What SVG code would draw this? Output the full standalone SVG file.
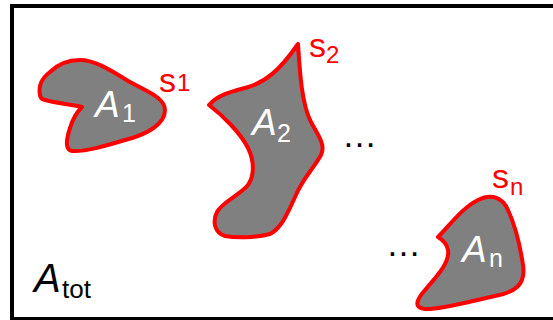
<svg xmlns="http://www.w3.org/2000/svg" width="553" height="320" viewBox="0 0 553 320">
<style>
.region{fill:#808080;stroke:#ff0000;stroke-width:4;stroke-linejoin:round}
.area{font-family:"Liberation Sans",Arial,sans-serif;fill:#ffffff}
.big{font-style:italic;font-size:37px}
.sub{font-size:25px}
.bound{font-family:"Liberation Sans",Arial,sans-serif;fill:#ff0000}
.s{font-size:34px}
.ssub{font-size:24px}
.dots{font-family:"Liberation Sans",Arial,sans-serif;font-size:35px;fill:#000000}
.tot{font-family:"Liberation Sans",Arial,sans-serif;fill:#000000}
</style>
<rect x="0" y="0" width="553" height="320" fill="#ffffff"/>
<rect id="frame" x="12" y="6" width="560" height="313" fill="none" stroke="#000000" stroke-width="4"/>
<g id="region1">
<path class="region" d="M 40,95 C 38,85 42,78 50,72 C 58,64 68,60 80,60 C 95,60 110,70 130,82 C 148,92 165,98 165,110 C 165,125 145,135 125,140 C 105,146 85,152 72,151 C 65,150 66,140 70,128 C 73,118 78,111 82,107 C 70,104 55,103 45,100 C 41,99 40,97 40,95 Z"/>
<text class="area"><tspan class="big" x="95" y="117">A</tspan><tspan class="sub" x="122" y="122">1</tspan></text>
<text class="bound"><tspan class="s" x="159" y="92">s</tspan><tspan class="ssub" x="177" y="91">1</tspan></text>
</g>
<g id="region2">
<path class="region" d="M 298,44 C 300,75 302,105 311,122 C 318,135 326,145 321,155 C 314,168 303,178 296,195 C 288,212 282,228 270,234 C 255,238 235,238 225,236 C 215,233 212,222 217,212 C 222,202 240,195 248,185 C 255,175 254,160 248,148 C 240,132 222,115 209,105 C 218,95 230,92 245,88 C 265,83 280,70 298,44 Z"/>
<text class="area"><tspan class="big" x="252" y="135">A</tspan><tspan class="sub" x="277" y="142">2</tspan></text>
<text class="bound"><tspan class="s" x="309" y="57">s</tspan><tspan class="ssub" x="326" y="63">2</tspan></text>
</g>
<g id="region3">
<path class="region" d="M 438,237 C 450,225 462,208 478,200 C 492,193 503,198 508,210 C 515,225 520,245 523,265 C 526,285 515,292 495,296 C 475,300 440,310 425,309 C 412,308 418,298 425,290 C 438,275 450,262 448,250 C 447,244 443,240 438,237 Z"/>
<text class="area"><tspan class="big" x="462" y="262">A</tspan><tspan class="sub" x="489" y="267">n</tspan></text>
<text class="bound"><tspan class="s" x="492" y="188">s</tspan><tspan class="ssub" x="510" y="195">n</tspan></text>
</g>
<g id="connectors"></g>
<text class="dots" x="342" y="147">…</text>
<text class="dots" x="386" y="256">…</text>
<text class="tot"><tspan x="34" y="292" font-size="40" font-style="italic">A</tspan><tspan x="62" y="298" font-size="26">tot</tspan></text>
</svg>
